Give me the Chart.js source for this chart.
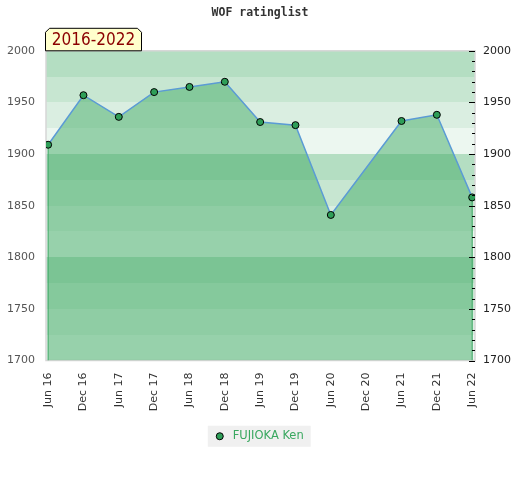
<!DOCTYPE html>
<html lang="en">
<head>
    <meta charset="UTF-8">
    <title>WOF ratinglist</title>
    <script src="https://cdn.jsdelivr.net/npm/chart.js"></script>
    <style>
        body, html {
            margin: 0;
            background: #fff;
        }
        .wrap {
            width: 520px;
            height: 480px;
        }
    </style>
</head>
<body>
    <div class="wrap"><canvas id="ratingChart"></canvas></div>

    <script>
        // data
        const periods = ['Jun 16', 'Dec 16', 'Jun 17', 'Dec 17', 'Jun 18', 'Dec 18', 'Jun 19',
                         'Dec 19', 'Jun 20', 'Dec 20', 'Jun 21', 'Dec 21', 'Jun 22'];
        const ratings = [1909, 1957, 1936, 1960, 1965, 1970, 1931, 1928, 1841, null, 1932, 1938, 1858];
        const playerName = 'FUJIOKA Ken';
        const chartTitle = 'WOF ratinglist';
        const periodLabel = '2016-2022';
        const yMin = 1700;
        const yMax = 2000;
        const yStep = 50;
        const minorStep = 10;
        const bandStep = 25;

        const points = ratings
            .map((v, i) => (v === null ? null : { x: i, y: v }))
            .filter(p => p !== null);
        const firstPt = points[0];
        const lastPt = points[points.length - 1];

        const bandAlpha = [0.4, 0.3, 0.2, 0.1];

        const decorPlugin = {
            id: 'decor',
            beforeDraw(chart) {
                const { ctx, chartArea: a, scales: { y } } = chart;
                ctx.save();
                // rating bands behind the plot
                for (let v = yMax; v > yMin; v -= bandStep) {
                    const k = Math.round((yMax - v) / bandStep) % bandAlpha.length;
                    const top = Math.round(y.getPixelForValue(v));
                    const bot = Math.round(y.getPixelForValue(v - bandStep));
                    ctx.fillStyle = `rgba(68,172,103,${bandAlpha[k]})`;
                    ctx.fillRect(a.left, top, a.right - a.left, bot - top);
                }
                ctx.strokeStyle = '#d6d6d6';
                ctx.lineWidth = 1.5;
                ctx.strokeRect(a.left, a.top, a.right - a.left, a.bottom - a.top);

                // grey box behind the legend
                const hb = chart.legend.legendHitBoxes[0];
                if (hb) {
                    const cy = hb.top + hb.height / 2;
                    ctx.fillStyle = '#f0f0f0';
                    ctx.fillRect(hb.left - 8.5, cy - 10.5, hb.width + 15.5, 21);
                }
                ctx.restore();
            },
            afterDatasetsDraw(chart) {
                const { ctx, chartArea: a, scales: { y } } = chart;
                ctx.save();
                ctx.strokeStyle = '#000';
                ctx.lineWidth = 1;
                ctx.beginPath();
                for (let v = yMin; v <= yMax; v += minorStep) {
                    const len = v % yStep === 0 ? 6 : 3;
                    const py = Math.round(y.getPixelForValue(v)) + 0.5;
                    ctx.moveTo(a.right - len, py);
                    ctx.lineTo(a.right, py);
                }
                ctx.stroke();
                ctx.restore();
            },
            afterDraw(chart) {
                const { ctx, chartArea: a } = chart;
                const x0 = a.left - 0.5, x1 = a.left + 95.5;
                const y0 = a.top - 22.5, y1 = a.top;
                const c = 4;
                ctx.save();
                ctx.beginPath();
                ctx.moveTo(x0, y1);
                ctx.lineTo(x0, y0 + c);
                ctx.lineTo(x0 + c, y0);
                ctx.lineTo(x1 - c, y0);
                ctx.lineTo(x1, y0 + c);
                ctx.lineTo(x1, y1);
                ctx.closePath();
                ctx.fillStyle = '#ffffcc';
                ctx.fill();
                ctx.strokeStyle = '#000';
                ctx.lineWidth = 1;
                ctx.stroke();
                ctx.fillStyle = '#8b0000';
                ctx.font = "17px 'Liberation Sans Narrow', 'DejaVu Sans Condensed', sans-serif";
                ctx.textAlign = 'center';
                ctx.textBaseline = 'middle';
                ctx.fillText(periodLabel, (x0 + x1) / 2, (y0 + y1) / 2 + 1);
                ctx.restore();
            }
        };

        Chart.defaults.font.family = "'DejaVu Sans', sans-serif";
        Chart.defaults.font.size = 11;

        new Chart(document.getElementById('ratingChart').getContext('2d'), {
            type: 'line',
            data: {
                datasets: [{
                    label: playerName,
                    data: points,
                    borderColor: '#5b9bd5',
                    borderWidth: 1.5,
                    backgroundColor: 'rgba(68,172,103,0.5)',
                    fill: 'start',
                    pointRadius: 3.5,
                    pointBackgroundColor: '#2e9e58',
                    pointBorderColor: '#000',
                    pointBorderWidth: 1,
                    tension: 0
                }, {
                    label: 'left edge',
                    data: [{ x: firstPt.x, y: yMin }, firstPt],
                    borderColor: '#2ea05a',
                    borderWidth: 1,
                    pointRadius: 0,
                    fill: false
                }, {
                    label: 'right edge',
                    data: [{ x: lastPt.x, y: yMin }, lastPt],
                    borderColor: '#2ea05a',
                    borderWidth: 1,
                    pointRadius: 0,
                    fill: false
                }]
            },
            options: {
                responsive: true,
                maintainAspectRatio: false,
                animation: false,
                layout: { padding: { bottom: 28 } },
                plugins: {
                    title: {
                        display: true,
                        text: chartTitle,
                        color: '#333',
                        font: { family: "'DejaVu Sans Mono', monospace", size: 11.5, weight: 'bold' },
                        padding: { top: 6, bottom: 31 }
                    },
                    legend: {
                        position: 'bottom',
                        labels: {
                            filter: item => item.datasetIndex === 0,
                            generateLabels: chart => {
                                const items = Chart.defaults.plugins.legend.labels.generateLabels(chart);
                                items.forEach(it => { it.text = ' ' + it.text; });
                                return items;
                            },
                            usePointStyle: true,
                            pointStyle: 'circle',
                            pointStyleWidth: 7,
                            boxHeight: 5,
                            color: '#3aa860',
                            font: { size: 11.5 }
                        }
                    },
                    tooltip: { enabled: false }
                },
                scales: {
                    x: {
                        type: 'linear',
                        min: -0.06,
                        max: periods.length - 1 + 0.08,
                        grid: { display: false, drawTicks: false },
                        border: { display: false },
                        afterFit: s => { s.height = 60; },
                        ticks: {
                            stepSize: 1,
                            includeBounds: false,
                            autoSkip: false,
                            maxTicksLimit: 30,
                            minRotation: 90,
                            maxRotation: 90,
                            padding: 12,
                            color: '#333',
                            callback: v => periods[v]
                        }
                    },
                    y: {
                        position: 'left',
                        min: yMin,
                        max: yMax,
                        grid: { display: false, drawTicks: false },
                        border: { display: false },
                        afterFit: s => { s.width = 46; },
                        ticks: { stepSize: yStep, padding: 11, color: '#555', callback: v => String(v) }
                    },
                    y2: {
                        position: 'right',
                        min: yMin,
                        max: yMax,
                        grid: { display: false, drawTicks: false },
                        border: { display: false },
                        afterFit: s => { s.width = 45; },
                        ticks: { stepSize: yStep, padding: 8, color: '#222', callback: v => String(v) }
                    }
                }
            },
            plugins: [decorPlugin]
        });
    </script>
</body>
</html>
